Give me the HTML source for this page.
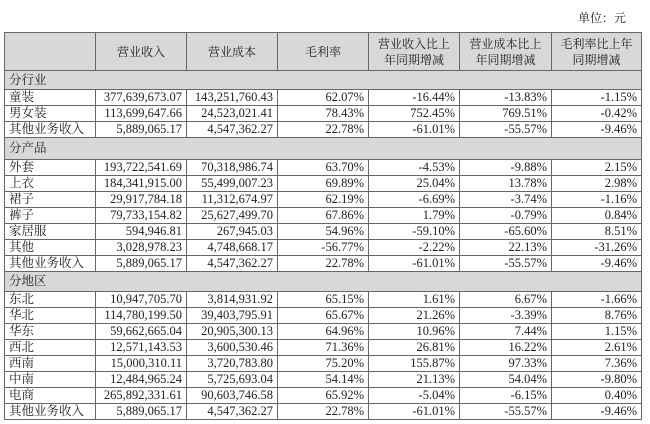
<!DOCTYPE html>
<html><head><meta charset="utf-8"><style>
body{margin:0;width:650px;height:424px;background:#fff;overflow:hidden;font-family:"Liberation Serif","Noto Serif CJK SC",serif;color:#222;}
.unit{position:absolute;left:578px;top:9px;font-size:12px;}
table{position:absolute;left:4px;top:32px;border-collapse:collapse;table-layout:fixed;font-size:12.5px;}
td{border:1px solid #666;padding:0 4px;height:15px;line-height:15px;text-align:right;white-space:nowrap;overflow:hidden;}
td:first-child{text-align:left;}
tr.h td{height:37px;background:#d8d8d8;text-align:center;line-height:16px;font-size:12px;}
tr.s td{background:#d8d8d8;text-align:left;height:18px;}
</style></head><body>
<div class="unit">单位：元</div>
<table>
<colgroup><col style="width:91px"><col style="width:91px"><col style="width:91px"><col style="width:91px"><col style="width:91px"><col style="width:92px"><col style="width:90px"></colgroup>
<tr class="h"><td></td><td>营业收入</td><td>营业成本</td><td>毛利率</td><td>营业收入比上<br>年同期增减</td><td>营业成本比上<br>年同期增减</td><td>毛利率比上年<br>同期增减</td></tr>
<tr class="s"><td colspan="7">分行业</td></tr>
<tr><td>童装</td><td>377,639,673.07</td><td>143,251,760.43</td><td>62.07%</td><td>-16.44%</td><td>-13.83%</td><td>-1.15%</td></tr>
<tr><td>男女装</td><td>113,699,647.66</td><td>24,523,021.41</td><td>78.43%</td><td>752.45%</td><td>769.51%</td><td>-0.42%</td></tr>
<tr><td>其他业务收入</td><td>5,889,065.17</td><td>4,547,362.27</td><td>22.78%</td><td>-61.01%</td><td>-55.57%</td><td>-9.46%</td></tr>
<tr class="s"><td colspan="7" style="height:21px">分产品</td></tr>
<tr><td>外套</td><td>193,722,541.69</td><td>70,318,986.74</td><td>63.70%</td><td>-4.53%</td><td>-9.88%</td><td>2.15%</td></tr>
<tr><td>上衣</td><td>184,341,915.00</td><td>55,499,007.23</td><td>69.89%</td><td>25.04%</td><td>13.78%</td><td>2.98%</td></tr>
<tr><td>裙子</td><td>29,917,784.18</td><td>11,312,674.97</td><td>62.19%</td><td>-6.69%</td><td>-3.74%</td><td>-1.16%</td></tr>
<tr><td>裤子</td><td>79,733,154.82</td><td>25,627,499.70</td><td>67.86%</td><td>1.79%</td><td>-0.79%</td><td>0.84%</td></tr>
<tr><td>家居服</td><td>594,946.81</td><td>267,945.03</td><td>54.96%</td><td>-59.10%</td><td>-65.60%</td><td>8.51%</td></tr>
<tr><td>其他</td><td>3,028,978.23</td><td>4,748,668.17</td><td>-56.77%</td><td>-2.22%</td><td>22.13%</td><td>-31.26%</td></tr>
<tr><td>其他业务收入</td><td>5,889,065.17</td><td>4,547,362.27</td><td>22.78%</td><td>-61.01%</td><td>-55.57%</td><td>-9.46%</td></tr>
<tr class="s"><td colspan="7" style="height:19px">分地区</td></tr>
<tr><td>东北</td><td>10,947,705.70</td><td>3,814,931.92</td><td>65.15%</td><td>1.61%</td><td>6.67%</td><td>-1.66%</td></tr>
<tr><td>华北</td><td>114,780,199.50</td><td>39,403,795.91</td><td>65.67%</td><td>21.26%</td><td>-3.39%</td><td>8.76%</td></tr>
<tr><td>华东</td><td>59,662,665.04</td><td>20,905,300.13</td><td>64.96%</td><td>10.96%</td><td>7.44%</td><td>1.15%</td></tr>
<tr><td>西北</td><td>12,571,143.53</td><td>3,600,530.46</td><td>71.36%</td><td>26.81%</td><td>16.22%</td><td>2.61%</td></tr>
<tr><td>西南</td><td>15,000,310.11</td><td>3,720,783.80</td><td>75.20%</td><td>155.87%</td><td>97.33%</td><td>7.36%</td></tr>
<tr><td>中南</td><td>12,484,965.24</td><td>5,725,693.04</td><td>54.14%</td><td>21.13%</td><td>54.04%</td><td>-9.80%</td></tr>
<tr><td>电商</td><td>265,892,331.61</td><td>90,603,746.58</td><td>65.92%</td><td>-5.04%</td><td>-6.15%</td><td>0.40%</td></tr>
<tr><td>其他业务收入</td><td>5,889,065.17</td><td>4,547,362.27</td><td>22.78%</td><td>-61.01%</td><td>-55.57%</td><td>-9.46%</td></tr>
</table>
</body></html>
